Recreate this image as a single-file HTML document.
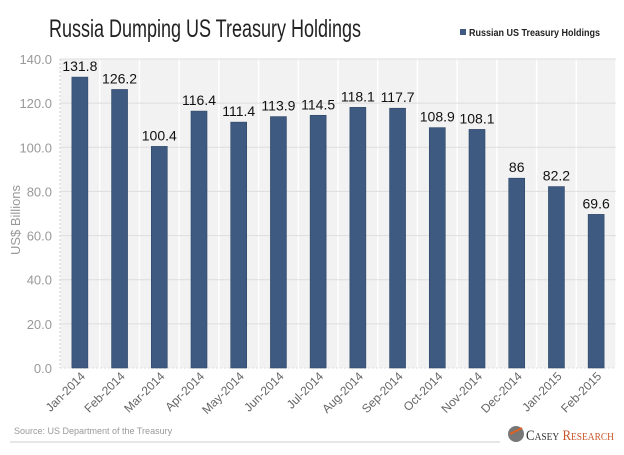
<!DOCTYPE html>
<html><head><meta charset="utf-8"><style>
body{margin:0;background:#fff;width:624px;height:450px;overflow:hidden;font-family:"Liberation Sans",sans-serif}
</style></head><body>
<svg id="c" width="624" height="450">
<rect width="624" height="450" fill="#fff"/>
<text x="49" y="37" font-size="25" fill="#222" textLength="312" lengthAdjust="spacingAndGlyphs">Russia Dumping US Treasury Holdings</text>
<g>
<rect x="460" y="29" width="6" height="6" fill="#3e5a80"/>
<text x="469" y="36" font-size="10" font-weight="bold" fill="#222" textLength="131" lengthAdjust="spacingAndGlyphs">Russian US Treasury Holdings</text>
</g>
<g id="plot"></g>
<text transform="translate(20,220) rotate(-90)" text-anchor="middle" font-size="13" fill="#999">US$ Billions</text>
<text x="14" y="434" font-size="9" fill="#999">Source: US Department of the Treasury</text>
<line x1="10" y1="442" x2="500" y2="442" stroke="#ccc" stroke-width="1"/>
<g>
<circle cx="516" cy="434" r="8" fill="#777"/>
<path d="M510 434 L522 428" stroke="#e06020" stroke-width="2"/>
<text x="526" y="440" font-family="Liberation Serif,serif" font-size="15" fill="#333" textLength="88" lengthAdjust="spacingAndGlyphs">C<tspan font-size="11">ASEY</tspan> <tspan fill="#c8562a">R</tspan><tspan fill="#c8562a" font-size="11">ESEARCH</tspan></text>
</g>
</svg>
<script>
const categories=["Jan-2014","Feb-2014","Mar-2014","Apr-2014","May-2014","Jun-2014","Jul-2014","Aug-2014","Sep-2014","Oct-2014","Nov-2014","Dec-2014","Jan-2015","Feb-2015"];
const values=[131.8,126.2,100.4,116.4,111.4,113.9,114.5,118.1,117.7,108.9,108.1,86,82.2,69.6];
const valueLabels=["131.8","126.2","100.4","116.4","111.4","113.9","114.5","118.1","117.7","108.9","108.1","86","82.2","69.6"];
const yTicks=[0,20,40,60,80,100,120,140];
const yTickLabels=["0.0","20.0","40.0","60.0","80.0","100.0","120.0","140.0"];
const NS="http://www.w3.org/2000/svg";
const g=document.getElementById('plot');
const L=60,R=616,T=59,B=368,yMax=140;
const y=v=>B-(v/yMax)*(B-T);
const bw=(R-L)/categories.length;
const x=i=>L+bw*(i+0.5);
function mk(t,a){const e=document.createElementNS(NS,t);for(const k in a)e.setAttribute(k,a[k]);g.appendChild(e);return e;}
let e=mk('rect',{x:L,y:T,width:R-L,height:B-T,fill:'#f2f2f2'});


for(let i=0;i<=categories.length;i++){
 e=mk('line',{x1:L+bw*i,x2:L+bw*i,y1:T,y2:B,stroke:'#fff','stroke-width':1.5});
 
 
}
yTicks.forEach((t,i)=>{
 e=mk('line',{x1:L,x2:R,y1:y(t),y2:y(t),stroke:'#ddd','stroke-dasharray':t===0?'2,2':'none'});
 
 
 e=mk('text',{x:L-8,y:y(t)+5,'text-anchor':'end','font-size':13,fill:'#999'});
 e.textContent=yTickLabels[i];
 
 
});
e=mk('line',{x1:L,x2:L,y1:T,y2:B,stroke:'#ccc','stroke-dasharray':'2,2'});


categories.forEach((c,i)=>{
 e=mk('rect',{x:x(i)-8,y:y(values[i]),width:16,height:B-y(values[i]),fill:'#3e5a80',stroke:'#2e4668','stroke-width':0.6});
 
 
 e=mk('text',{x:x(i),y:y(values[i])-6,'text-anchor':'middle','font-size':14,fill:'#111'});
 e.textContent=valueLabels[i];
 
 
 e=mk('text',{transform:`translate(${x(i)+6},${B+9}) rotate(-45)`,'text-anchor':'end','font-size':12,fill:'#666'});
 e.textContent=c;
 
 
});
</script>
</body></html>
